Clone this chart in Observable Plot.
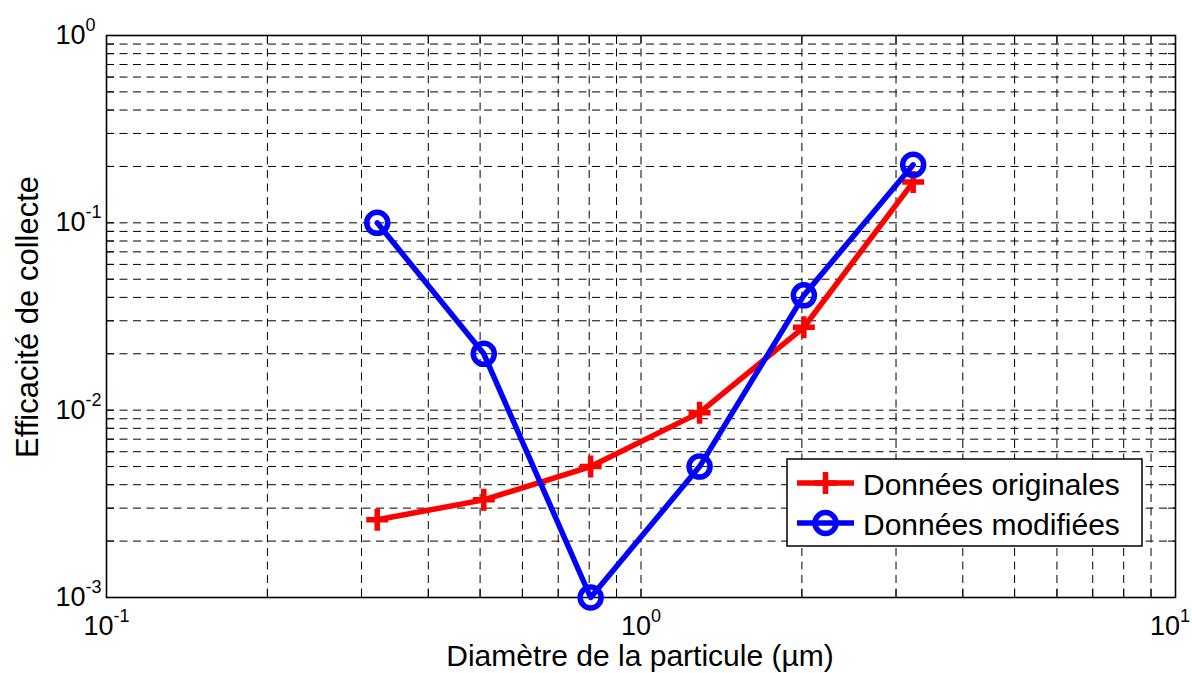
<!DOCTYPE html>
<html>
<head>
<meta charset="utf-8">
<script src="https://cdn.jsdelivr.net/npm/d3@7"></script>
<script src="https://cdn.jsdelivr.net/npm/@observablehq/plot@0.6"></script>
<style>
  html, body { margin: 0; padding: 0; background: #fff; }
  #chart { width: 1192px; height: 673px; }
  svg text { font-family: "Liberation Sans", Arial, sans-serif; }
</style>
</head>
<body>
<div id="chart"></div>
<script>
// ---- Data ----
const diameters = [0.321, 0.508, 0.805, 1.287, 2.017, 3.23];
const original  = [0.0026, 0.00332, 0.0050, 0.0097, 0.0277, 0.165];
const modified  = [0.100, 0.020, 0.001, 0.005, 0.041, 0.204];
const seriesNames = ["Données originales", "Données modifiées"];
const xLabel = "Diamètre de la particule (µm)";
const yLabel = "Efficacité de collecte";
const xMajor = [0.1, 1, 10];
const yMajor = [0.001, 0.01, 0.1, 1];
const xMinor = [0.2,0.3,0.4,0.5,0.6,0.7,0.8,0.9,2,3,4,5,6,7,8,9];
const yMinor = [0.002,0.003,0.004,0.005,0.006,0.007,0.008,0.009,
                0.02,0.03,0.04,0.05,0.06,0.07,0.08,0.09,
                0.2,0.3,0.4,0.5,0.6,0.7,0.8,0.9];

const rows = diameters.map((d, i) => ({d, orig: original[i], mod: modified[i]}));
const xAll = [...xMajor, ...xMinor];
const yAll = [...yMajor, ...yMinor];

const fmt = v => "10^" + Math.round(Math.log10(v));
const blank = () => "";

const plusSymbol = {
  draw(ctx, size) {
    const r = Math.sqrt(size / Math.PI);
    ctx.moveTo(-r, 0); ctx.lineTo(r, 0);
    ctx.moveTo(0, -r); ctx.lineTo(0, r);
  }
};

const gridStyle = {stroke: "#000", strokeOpacity: 1, strokeWidth: 1, strokeDasharray: "8,5.5"};
const tickLen = -8;

const chart = Plot.plot({
  width: 1192,
  height: 673,
  marginLeft: 106,
  marginRight: 17,
  marginTop: 35,
  marginBottom: 76,
  style: {fontFamily: "Liberation Sans, Arial, sans-serif", fontSize: "26px", background: "#fff", color: "#000"},
  x: {type: "log", domain: [0.1, 10]},
  y: {type: "log", domain: [0.001, 1]},
  marks: [
    Plot.gridX(xAll.filter(v => v > 0.1 && v < 10), gridStyle),
    Plot.gridY(yAll.filter(v => v > 0.001 && v < 1), gridStyle),
    // inward ticks on all four sides
    Plot.axisX(xAll, {anchor: "bottom", tickSize: tickLen, tickFormat: blank, label: null, strokeWidth: 1}),
    Plot.axisX(xAll, {anchor: "top", tickSize: tickLen, tickFormat: blank, label: null, strokeWidth: 1}),
    Plot.axisY(yAll, {anchor: "left", tickSize: tickLen, tickFormat: blank, label: null, strokeWidth: 1}),
    Plot.axisY(yAll, {anchor: "right", tickSize: tickLen, tickFormat: blank, label: null, strokeWidth: 1}),
    // tick labels
    Plot.axisX(xMajor, {anchor: "bottom", tickSize: 0, tickPadding: 18, tickFormat: fmt, label: null, fontSize: 27}),
    Plot.axisY(yMajor, {anchor: "left", tickSize: 0, tickPadding: 51, textAnchor: "start", tickFormat: fmt, label: null, fontSize: 27}),
    Plot.frame({stroke: "#000", strokeWidth: 1.6}),
    // series
    Plot.line(rows, {x: "d", y: "orig", stroke: "#ff0000", strokeWidth: 5.5}),
    Plot.dot(rows, {x: "d", y: "orig", symbol: plusSymbol, r: 11, stroke: "#ff0000", strokeWidth: 5.5, fill: "none"}),
    Plot.line(rows, {x: "d", y: "mod", stroke: "#0000ff", strokeWidth: 5.5}),
    Plot.dot(rows, {x: "d", y: "mod", r: 10.5, stroke: "#0000ff", strokeWidth: 5.5, fill: "none"})
  ]
});

document.getElementById("chart").appendChild(chart);

// superscript exponents in tick labels
d3.select(chart).selectAll("text").each(function() {
  const t = this.textContent;
  const m = /^10\^(-?\d+)$/.exec(t);
  if (!m) return;
  const sel = d3.select(this);
  sel.text(null);
  sel.append("tspan").text("10");
  sel.append("tspan").attr("font-size", 18).attr("dy", -13).text(m[1]);
  // keep labels inside the picture
  const b = this.getBBox();
  const ctm = this.getCTM();
  const right = b.x + b.width + (ctm ? ctm.e : 0);
  if (right > 1190) sel.attr("dx", 1190 - right);
});

const svg = d3.select(chart);
// axis titles
svg.append("text")
  .attr("x", 640).attr("y", 666)
  .attr("text-anchor", "middle")
  .attr("font-size", 30)
  .attr("fill", "#000")
  .text(xLabel);
svg.append("text")
  .attr("transform", "translate(38,317) rotate(-90)")
  .attr("text-anchor", "middle")
  .attr("font-size", 31)
  .attr("fill", "#000")
  .text(yLabel);

// legend
const lg = svg.append("g");
lg.append("rect").attr("x", 787).attr("y", 459).attr("width", 355).attr("height", 87)
  .attr("fill", "#fff").attr("stroke", "#000").attr("stroke-width", 1.5);
const items = [
  {name: seriesNames[0], color: "#ff0000", y: 483, kind: "plus"},
  {name: seriesNames[1], color: "#0000ff", y: 523, kind: "circle"}
];
items.forEach(it => {
  lg.append("line").attr("x1", 797).attr("x2", 854).attr("y1", it.y).attr("y2", it.y)
    .attr("stroke", it.color).attr("stroke-width", 5.5);
  if (it.kind === "plus") {
    lg.append("path").attr("d", `M${825.5 - 11},${it.y}H${825.5 + 11}M825.5,${it.y - 11}V${it.y + 11}`)
      .attr("stroke", it.color).attr("stroke-width", 5.5).attr("fill", "none");
  } else {
    lg.append("circle").attr("cx", 825.5).attr("cy", it.y).attr("r", 10.5)
      .attr("stroke", it.color).attr("stroke-width", 5.5).attr("fill", "none");
  }
  lg.append("text").attr("x", 863).attr("y", it.y + 12).attr("font-size", 30)
    .attr("text-anchor", "start").attr("fill", "#000")
    .text(it.name);
});
</script>
</body>
</html>
